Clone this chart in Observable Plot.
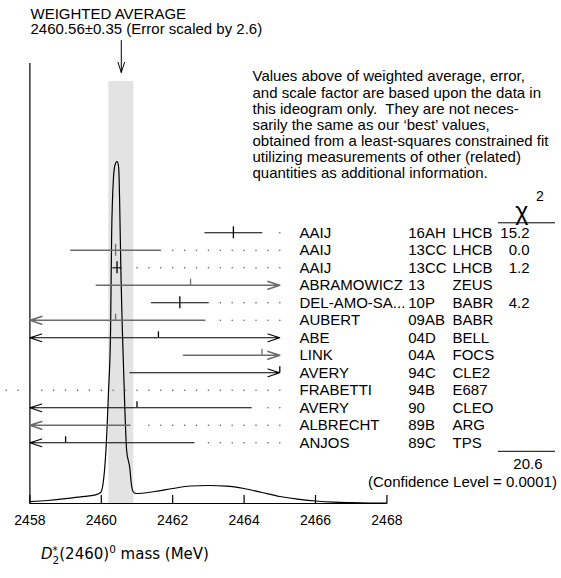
<!DOCTYPE html>
<html><head><meta charset="utf-8">
<script src="https://cdn.jsdelivr.net/npm/d3@7"></script>
<script src="https://cdn.jsdelivr.net/npm/@observablehq/plot@0.6"></script>
<style>
body{margin:0;background:#fff;}
#wrap{position:relative;width:561px;height:578px;background:#fff;}
#wrap svg{position:absolute;left:0;top:0;}
#cap{position:absolute;left:41px;top:545px;font-family:"DejaVu Sans",sans-serif;font-size:15px;line-height:18px;white-space:nowrap;}
#cap .st{display:inline-block;vertical-align:-0.45em;font-size:0.7em;line-height:0.95;text-align:left;white-space:pre;}
#cap sup{font-size:0.7em;vertical-align:0.55em;line-height:0;}
</style></head><body><div id="wrap"></div>
<script>
// ---- data ----
const names = ["AAIJ","AAIJ","AAIJ","ABRAMOWICZ","DEL-AMO-SA...","AUBERT","ABE","LINK","AVERY","FRABETTI","AVERY","ALBRECHT","ANJOS"];
const docIds = ["16AH","13CC","13CC","13","10P","09AB","04D","04A","94C","94B","90","89B","89C"];
const experiments = ["LHCB","LHCB","LHCB","ZEUS","BABR","BABR","BELL","FOCS","CLE2","E687","CLEO","ARG","TPS"];
const masses = [2463.7, 2460.4, 2460.44, 2462.5, 2462.2, 2460.4, 2461.6, 2464.5, 2465.0, 2453.0, 2461.0, 2455.0, 2459.0];
const errMinus = [0.81, 1.27, 0.13, 2.64, 0.81, 2.5, 4.0, 2.2, 4.2, 3.6, 3.2, 5.8, 3.6];
const errPlus  = [0.81, 1.27, 0.13, 2.73, 0.81, 2.5, 4.0, 2.2, 4.2, 3.6, 3.2, 5.8, 3.6];
const chi2 = [15.2, 0.0, 1.2, null, 4.2, null, null, null, null, null, null, null, null];
const avgValue = 2460.56, avgError = 0.35, errScale = 2.6, confLevel = "0.0001";
const ideogramMass = [2458.00,2458.50,2459.00,2459.42,2459.84,2459.98,2460.05,2460.09,2460.13,2460.20,2460.26,2460.29,2460.31,2460.34,2460.38,2460.44,2460.48,2460.50,2460.52,2460.55,2460.59,2460.65,2460.71,2460.80,2460.84,2460.89,2460.96,2461.50,2462.00,2462.50,2463.00,2463.50,2464.00,2464.50,2465.00,2465.50,2466.00,2466.50,2467.00,2467.50,2468.00];
const ideogramHeight = [1.8,3.0,4.8,6.7,8.7,11,20,33,53,110,173,270,300,325,338,342,338,325,290,230,173,105,53,35,20,12,10,12,15,17.5,18,17.4,15,11,7,4.3,2.5,1.3,0.8,0.5,0.3];
const xTicks = [2458, 2460, 2462, 2464, 2466, 2468];
const note = "Values above of weighted average, error,\nand scale factor are based upon the data in\nthis ideogram only.  They are not neces-\nsarily the same as our \u2018best\u2019 values,\nobtained from a least-squares constrained fit\nutilizing measurements of other (related)\nquantities as additional information.";

// ---- layout ----
const W = 561, H = 540, X0 = 29.4, X1 = 386.4, AXIS_Y = 503;
const XMIN = 2458, XMAX = 2468, XCLIP = 2465;
const xs = d3.scaleLinear([XMIN, XMAX], [X0, X1]);
const font = '"Liberation Sans", Arial, Helvetica, sans-serif';
const style = {background: "transparent", fontFamily: font, overflow: "visible"};
const BLACK = "#000", GRAY = "#6c6c6c";

// ---- derived ----
const rows = names.map((name, i) => ({
  i, name, doc: docIds[i], exp: experiments[i], m: masses[i],
  lo: masses[i] - errMinus[i], hi: masses[i] + errPlus[i],
  chi: chi2[i], fitted: chi2[i] !== null, gray: i % 2 === 1
}));
const links = [], arrows = [], dots = [];
for (const r of rows) {
  const a = Math.max(r.lo, XMIN), b = Math.min(r.hi, XCLIP);
  const st = {i: r.i, gray: r.gray};
  if (a < b) {
    const lo = r.lo < XMIN, hi = r.hi > XCLIP;
    if (lo && hi) { const mid = (a + b) / 2; arrows.push({...st, x1: mid, x2: a}, {...st, x1: mid, x2: b}); }
    else if (lo) arrows.push({...st, x1: b, x2: a});
    else if (hi) arrows.push({...st, x1: a, x2: b});
    else links.push({...st, x1: a, x2: b});
  }
  if (r.hi < XCLIP) {
    for (let k = Math.ceil((r.hi + 0.22) * 3); k <= XCLIP * 3; k++) dots.push({i: r.i, x: k / 3});
  }
}
const tickRows = rows.filter(r => r.m >= XMIN && r.m <= XCLIP);
const ideogram = ideogramMass.map((m, k) => ({m, h: ideogramHeight[k]}));
const avg = [{v: avgValue, e: avgError}];
const chiTotal = d3.sum(chi2.filter(c => c !== null));

// ---- Plot A: ideogram + axis ----
const A = Plot.plot({
  width: W, height: H, marginLeft: X0, marginRight: W - X1, marginTop: 63, marginBottom: H - AXIS_Y,
  x: {domain: [XMIN, XMAX], range: [X0, X1]},
  y: {domain: [0, 440], axis: null},
  style,
  marks: [
    Plot.rect(avg, {x1: d => d.v - d.e, x2: d => d.v + d.e, y1: 0, y2: 422, fill: "#e3e3e3"}),
    Plot.ruleX([XMIN], {stroke: BLACK, strokeWidth: 1.2}),
    Plot.ruleY([0], {stroke: BLACK, strokeWidth: 1.2}),
    Plot.ruleX(xTicks, {insetTop: 432, stroke: BLACK, strokeWidth: 1.2}),
    Plot.axisX({ticks: xTicks, tickSize: 0, tickPadding: 12, tickFormat: "d", fontSize: 14, label: null}),
    Plot.line(ideogram, {x: "m", y: "h", curve: "monotone-x", stroke: BLACK, strokeWidth: 1.2}),
    Plot.arrow(avg, {x: "v", y1: 463, y2: 431, stroke: BLACK, strokeWidth: 1, headAngle: 36, headLength: 18}),
    Plot.text([`WEIGHTED AVERAGE\n${avgValue.toFixed(2)}\u00b1${avgError.toFixed(2)} (Error scaled by ${errScale})`],
      {frameAnchor: "top-left", dx: 0.6, dy: -55.7, lineAnchor: "top", textAnchor: "start", fontSize: 15, lineHeight: 1.03}),
    Plot.text([note], {frameAnchor: "top-left", dx: 222.6, dy: 6.5, lineAnchor: "top", textAnchor: "start", fontSize: 15, lineHeight: 1.073})
  ]
});

// ---- Plot B: measurement rows ----
const B = Plot.plot({
  width: W, height: H, marginLeft: X0, marginRight: W - X1, marginTop: 232.3, marginBottom: H - 442.3,
  x: {domain: [XMIN, XMAX], range: [X0, X1], axis: null},
  y: {type: "point", domain: d3.range(rows.length), padding: 0, round: false, axis: null},
  style,
  marks: [
    Plot.dot(dots, {x: "x", y: "i", r: 0.75, fill: "#555", stroke: null}),
    Plot.link(links.filter(d => !d.gray), {x1: "x1", x2: "x2", y1: "i", y2: "i", stroke: BLACK, strokeWidth: 1.1}),
    Plot.link(links.filter(d => d.gray), {x1: "x1", x2: "x2", y1: "i", y2: "i", stroke: GRAY, strokeWidth: 1.6}),
    Plot.arrow(arrows.filter(d => !d.gray), {x1: "x1", x2: "x2", y1: "i", y2: "i", stroke: BLACK, strokeWidth: 1.1, headAngle: 36, headLength: 17}),
    Plot.arrow(arrows.filter(d => d.gray), {x1: "x1", x2: "x2", y1: "i", y2: "i", stroke: GRAY, strokeWidth: 1.6, headAngle: 36, headLength: 11.7}),
    Plot.ruleX(tickRows.filter(r => r.fitted), {x: "m", y1: "i", y2: "i", stroke: d => d.gray ? GRAY : BLACK, strokeWidth: 1.3, insetTop: -6, insetBottom: -6}),
    Plot.ruleX(tickRows.filter(r => !r.fitted), {x: "m", y1: "i", y2: "i", stroke: d => d.gray ? GRAY : BLACK, strokeWidth: 1.3, insetTop: -6, insetBottom: 0}),
    Plot.text(rows, {y: "i", text: "name", frameAnchor: "left", dx: 269.6, textAnchor: "start", fontSize: 15}),
    Plot.text(rows, {y: "i", text: "doc", frameAnchor: "left", dx: 378.3, textAnchor: "start", fontSize: 15}),
    Plot.text(rows, {y: "i", text: "exp", frameAnchor: "left", dx: 422.6, textAnchor: "start", fontSize: 15}),
    Plot.text(rows.filter(r => r.fitted), {y: "i", text: d => d.chi.toFixed(1), frameAnchor: "left", dx: 499.6, textAnchor: "end", fontSize: 15}),
    Plot.text(["\u03c7"], {frameAnchor: "top-left", dx: 492, dy: -31, textAnchor: "middle", fontSize: 25}),
    Plot.text(["2"], {frameAnchor: "top-left", dx: 510, dy: -42, textAnchor: "middle", fontSize: 14}),
    Plot.ruleY([0], {y: d => d, x1: xs.invert(498), x2: xs.invert(555), dy: -10, stroke: BLACK, strokeWidth: 1}),
    Plot.ruleY([rows.length - 1], {y: d => d, x1: xs.invert(498), x2: xs.invert(555), dy: 8.5, stroke: BLACK, strokeWidth: 1}),
    Plot.text([rows.length - 1], {y: d => d, text: () => chiTotal.toFixed(1), frameAnchor: "left", dx: 498, dy: 21, textAnchor: "middle", fontSize: 15}),
    Plot.text([rows.length - 1], {y: d => d, text: () => `(Confidence Level = ${confLevel})`, frameAnchor: "left", dx: 527, dy: 39, textAnchor: "end", fontSize: 15})
  ]
});

const wrap = document.getElementById("wrap");
wrap.append(A, B);
const cap = document.createElement("div");
cap.id = "cap";
cap.innerHTML = '<i>D</i><span class="st">*\n2</span>(2460)<sup>0</sup> mass (MeV)';
wrap.append(cap);
</script></body></html>
